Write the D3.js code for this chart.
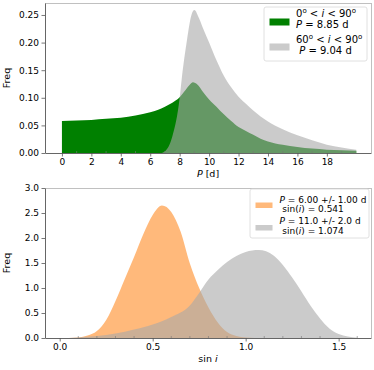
<!DOCTYPE html>
<html><head><meta charset="utf-8">
<script src="https://cdn.jsdelivr.net/npm/d3@7"></script>
<style>body{margin:0;background:#fff}svg{display:block}text{font-family:"DejaVu Sans",sans-serif;fill:#000}</style>
</head><body>
<svg id="c" width="374" height="370"></svg>
<script>
// ---- Top panel: period distributions ----
const periodP = [0,1,2,3,4,5,6,6.5,7,7.5,8,8.4,8.7,8.9,9.2,9.6,10,10.5,11,11.5,12,12.5,13,13.5,14,15,16,17,18,19,20];
const freqAll = [0.058,0.059,0.060,0.062,0.064,0.068,0.074,0.078,0.084,0.091,0.101,0.114,0.124,0.128,0.124,0.110,0.097,0.084,0.070,0.058,0.047,0.040,0.033,0.026,0.021,0.015,0.011,0.008,0.006,0.005,0.004];
const periodG = [6.8,7.0,7.5,8.0,8.13,8.5,8.8,9.0,9.3,9.6,10,10.5,11,11.5,12,12.5,13,14,15,16,17,18,19,20];
const freqHigh = [0,0.003,0.03,0.10,0.132,0.205,0.250,0.259,0.245,0.225,0.200,0.168,0.140,0.119,0.102,0.089,0.077,0.057,0.043,0.032,0.023,0.015,0.010,0.006];
const topXTicks = [0,2,4,6,8,10,12,14,16,18];
const topYTicks = [0,0.05,0.10,0.15,0.20,0.25];
const topLegend = [["0","o"," < ","i"," < 90","o"],["P"," = 8.85 d"],["60","o"," < ","i"," < 90","o"],[" P"," = 9.04 d"]];

// ---- Bottom panel: sin i distributions ----
const sinA = [0.05,0.1,0.15,0.2,0.25,0.3,0.35,0.4,0.45,0.5,0.55,0.6,0.65,0.7,0.75,0.8,0.85,0.9,0.95,1.0,1.05];
const freqA = [0,0.01,0.05,0.14,0.36,0.74,1.18,1.62,2.08,2.46,2.65,2.52,2.13,1.49,1.00,0.61,0.31,0.12,0.04,0.01,0];
const sinB = [0.05,0.1,0.2,0.3,0.4,0.5,0.6,0.7,0.75,0.8,0.85,0.9,0.95,1.0,1.07,1.15,1.2,1.25,1.3,1.35,1.4,1.45,1.5,1.55,1.6];
const freqB = [0,0.01,0.04,0.09,0.17,0.27,0.42,0.65,0.90,1.17,1.36,1.52,1.64,1.72,1.76,1.65,1.46,1.21,0.93,0.64,0.39,0.19,0.08,0.03,0.005];
const botXTicks = [0.0,0.5,1.0,1.5];
const botYTicks = [0,0.5,1.0,1.5,2.0,2.5,3.0];
const botLegend = [["P"," = 6.00 +/- 1.00 d"],[" sin(","i",") = 0.541"],["P"," = 11.0 +/- 2.0 d"],[" sin(","i",") = 1.074"]];

const svg = d3.select("#c");
const L = 45, R = 371;

function panel(cfg){
  const g = svg.append("g");
  const x = d3.scaleLinear().domain(cfg.xd).range([L,R]);
  const y = d3.scaleLinear().domain(cfg.yd).range([cfg.bot,cfg.top]);
  cfg.series.forEach(s=>{
    const data = s.xs.map((v,i)=>[v,s.ys[i]]);
    const area = d3.area().x(d=>x(d[0])).y0(y(0)).y1(d=>y(d[1])).curve(d3.curveMonotoneX);
    g.append("path").attr("d",area(data)).attr("fill",s.color).attr("fill-opacity",s.op);
  });
  // spines
  g.append("line").attr("x1",L).attr("x2",R).attr("y1",cfg.top+0.5).attr("y2",cfg.top+0.5).attr("stroke","#b0b0b0").attr("stroke-width",0.8);
  g.append("line").attr("x1",R+0.5).attr("x2",R+0.5).attr("y1",cfg.top).attr("y2",cfg.bot).attr("stroke","#b0b0b0").attr("stroke-width",0.8);
  const xa = g.append("g").attr("transform",`translate(0,${cfg.bot})`)
    .call(d3.axisBottom(x).tickValues(cfg.xt).tickFormat(cfg.xf).tickSize(3.5).tickSizeOuter(0).tickPadding(2.5));
  const ya = g.append("g").attr("transform",`translate(${L},0)`)
    .call(d3.axisLeft(y).tickValues(cfg.yt).tickFormat(cfg.yf).tickSize(3.5).tickSizeOuter(0).tickPadding(2.5));
  [xa,ya].forEach(a=>{a.select(".domain").attr("stroke","#555").attr("stroke-width",0.9);
    a.selectAll(".tick line").attr("stroke","#555").attr("stroke-width",0.8);
    a.selectAll("text").attr("font-size",9).attr("font-family","DejaVu Sans").attr("fill","#000");});
  // minor ticks (inward)
  g.append("g").selectAll("line").data(cfg.minor).join("line")
    .attr("x1",d=>x(d)).attr("x2",d=>x(d)).attr("y1",cfg.bot).attr("y2",cfg.bot-2)
    .attr("stroke","#777").attr("stroke-width",0.6);
  // labels
  g.append("text").attr("transform",`translate(10,${(cfg.top+cfg.bot)/2}) rotate(-90)`)
    .attr("text-anchor","middle").attr("font-size",9.5).text("Freq");
  const xl = g.append("text").attr("x",(L+R)/2).attr("y",cfg.bot+24).attr("text-anchor","middle").attr("font-size",9.5);
  cfg.xlabel.forEach(p=>xl.append("tspan").attr("font-style",p[1]?"italic":"normal").text(p[0]));
  // legend
  const lg = cfg.leg;
  g.append("rect").attr("x",lg.x).attr("y",lg.y).attr("width",lg.w).attr("height",lg.h).attr("rx",2)
    .attr("fill","#fff").attr("fill-opacity",0.85).attr("stroke","#d8d8d8").attr("stroke-width",0.8);
  lg.patches.forEach((p,i)=>{
    g.append("rect").attr("x",lg.px).attr("y",p.y).attr("width",lg.pw).attr("height",lg.ph)
      .attr("fill",p.color).attr("fill-opacity",p.op);
  });
  lg.lines.forEach((parts,i)=>{
    const t = g.append("text").attr("x",lg.tx).attr("y",lg.base[i]).attr("font-size",lg.fs).attr("xml:space","preserve");
    parts.forEach((s,j)=>{
      const ts = t.append("tspan").text(s);
      if(s==="o"){ts.attr("font-size",lg.fs*0.7).attr("dy",-lg.fs*0.4);}
      else if(j>0 && parts[j-1]==="o"){ts.attr("dy",lg.fs*0.4);}
      if(s.trim()==="P"||s==="i") ts.attr("font-style","italic");
    });
  });
}

const gray = "#a9a9a9";
panel({xd:[-1.15,21.0], yd:[0,0.2717], top:3, bot:153,
  series:[{xs:periodP,ys:freqAll,color:"#008000",op:1},{xs:periodG,ys:freqHigh,color:gray,op:0.6}],
  xt:topXTicks, xf:d3.format("d"), yt:topYTicks, yf:d3.format(".2f"),
  minor:[1,3,5,7,9,11,13,15,17,19],
  xlabel:[["P",true],[" [d]",false]],
  leg:{x:264,y:7,w:103,h:54,px:269.5,pw:20,ph:7,fs:10,tx:296,
    patches:[{y:18.5,color:"#008000",op:1},{y:43.5,color:gray,op:0.6}],
    lines:topLegend, base:[17,28,42.5,54]}
});
panel({xd:[-0.079,1.674], yd:[0,3], top:188, bot:338,
  series:[{xs:sinA,ys:freqA,color:"#ff7f0e",op:0.55},{xs:sinB,ys:freqB,color:gray,op:0.6}],
  xt:botXTicks, xf:d3.format(".1f"), yt:botYTicks, yf:d3.format(".1f"),
  minor:d3.range(0,17).map(i=>i/10).filter(v=>Math.abs(v*2-Math.round(v*2))>1e-6),
  xlabel:[["sin ",false],["i",true]],
  leg:{x:250,y:189,w:119,h:49,px:255.5,pw:17,ph:5.5,fs:9,tx:279.5,
    patches:[{y:202.5,color:"#ff7f0e",op:0.55},{y:225,color:gray,op:0.6}],
    lines:botLegend, base:[202.5,212,223.5,233.5]}
});
</script>
</body></html>
